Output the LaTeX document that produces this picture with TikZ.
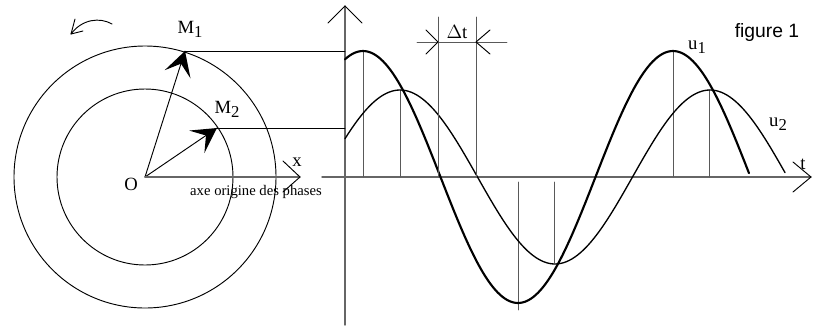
\documentclass[tikz,border=0pt]{standalone}
\usepackage{fontspec}
\setmainfont{Liberation Serif}
\newfontfamily\figfont{Liberation Sans}
\usetikzlibrary{calc}

\newcommand{\lowidx}[1]{\raisebox{-0.45ex}{\fontsize{12.5}{14}\selectfont #1}}

\begin{document}
\begin{tikzpicture}[
  x=0.75pt,
  y=-0.75pt,
  line cap=round,
  line join=round,
  circ/.style={
    draw=black,
    line width=0.7pt
  },
  axis/.style={
    draw=black!60,
    line width=1.1pt
  },
  guide/.style={
    draw=black!65,
    line width=0.7pt
  },
  thin/.style={
    draw=black,
    line width=0.7pt
  },
  label/.style={
    font=\fontsize{14}{16}\selectfont,
    inner sep=1pt
  }
]

  % 参数
  \def\W{1.16129}
  \def\Aone{126}
  \def\Atwo{87}
  \def\Pone{363}
  \def\Ptwo{400}
  \def\yaxe{177}

  \path[use as bounding box]
    (0,0) rectangle (818,329);

  % 旋转矢量
  \coordinate (O) at (145,177);
  \coordinate (M1) at (185,51);
  \coordinate (M2) at (217,128);

  \draw[circ] (O) circle[radius=131];
  \draw[circ] (O) circle[radius=88];

  \draw[thin] (O) -- (M1);
  \draw[thin] (O) -- (M2);

  % 矢量箭头
  \foreach \M in {M1,M2}
    \fill[black]
      (\M)
      -- ($(\M)!21pt!29:(O)$)
      -- ($(\M)!10pt!(O)$)
      -- ($(\M)!21pt!-29:(O)$)
      -- cycle;

  % 旋转方向
  \coordinate (R0) at (112,24);
  \coordinate (R) at (71,34);
  \draw[thin]
    (R0) .. controls (100,17) and (82,19) .. (R);
  \draw[thin]
    ($(R)+(4,-15)$) -- (R) -- ($(R)+(12,-3)$);

  % 相位原点轴
  \coordinate (X) at (300,\yaxe);
  \draw[axis] (O) -- (X);
  \draw[thin]
    ($(X)+(-17,-16)$) -- (X) -- ($(X)+(-17,15)$);

  \node[label] (lO) at (131,184) {O};
  \node[label] (lx) at (297,162) {x};
  \node[label,font=\fontsize{11}{13}\selectfont] (lphase) at (256,192)
    {axe origine des phases};
  \node[label] (lM1) at (190,29) {M\lowidx{1}};
  \node[label] (lM2) at (227,109) {M\lowidx{2}};

  % 坐标轴
  \coordinate (T0) at (322,\yaxe);
  \coordinate (T) at (811,\yaxe);
  \coordinate (V0) at (345,325);
  \coordinate (V) at (345,6);
  \draw[axis] (T0) -- (T);
  \draw[axis] (V0) -- (V);
  \draw[thin]
    ($(T)+(-18,-15)$) -- (T) -- ($(T)+(-18,15)$);
  \draw[thin]
    ($(V)+(-17,17)$) -- (V) -- ($(V)+(17,17)$);
  \node[label] (lt) at (803,164) {t};

  % 投影线
  \coordinate (Y1) at (345,51);
  \coordinate (Y2) at (345,128);
  \draw[circ] (M1) -- (Y1);
  \draw[circ] (M2) -- (Y2);

  % 峰值竖线
  \foreach \xx/\ya/\yb in {363/51/177,400/90/177,673/51/177,709/90/177,
                           518/182/310,554/182/263}
    \draw[guide] (\xx,\ya) -- (\xx,\yb);

  % 曲线
  \draw[draw=black,line width=1.6pt]
    plot[domain=345:749,samples=160,smooth]
    (\x,{\yaxe-\Aone*cos(\W*(\x-\Pone))});
  \draw[draw=black,line width=1pt]
    plot[domain=345:785,samples=160,smooth]
    (\x,{\yaxe-\Atwo*cos(\W*(\x-\Ptwo))});

  \node[label] (lu1) at (697,47) {u\lowidx{1}};
  \node[label] (lu2) at (778,124) {u\lowidx{2}};

  % Delta t
  \coordinate (D1) at (438,42);
  \coordinate (D2) at (476,42);
  \draw[guide] (438,17) -- (438,\yaxe);
  \draw[guide] (476,17) -- (476,\yaxe);
  \draw[guide] (417,42) -- (507,42);
  \draw[thin]
    ($(D1)+(-12,-12)$) -- (D1) -- ($(D1)+(-12,12)$);
  \draw[thin]
    ($(D2)+(14,-12)$) -- (D2) -- ($(D2)+(14,12)$);
  \node[label] (ldt) at (457,32) {$\Delta$t};

  \node[font=\figfont\fontsize{14.5}{16}\selectfont] (lfig) at (767,32)
    {figure 1};

\end{tikzpicture}
\end{document}
